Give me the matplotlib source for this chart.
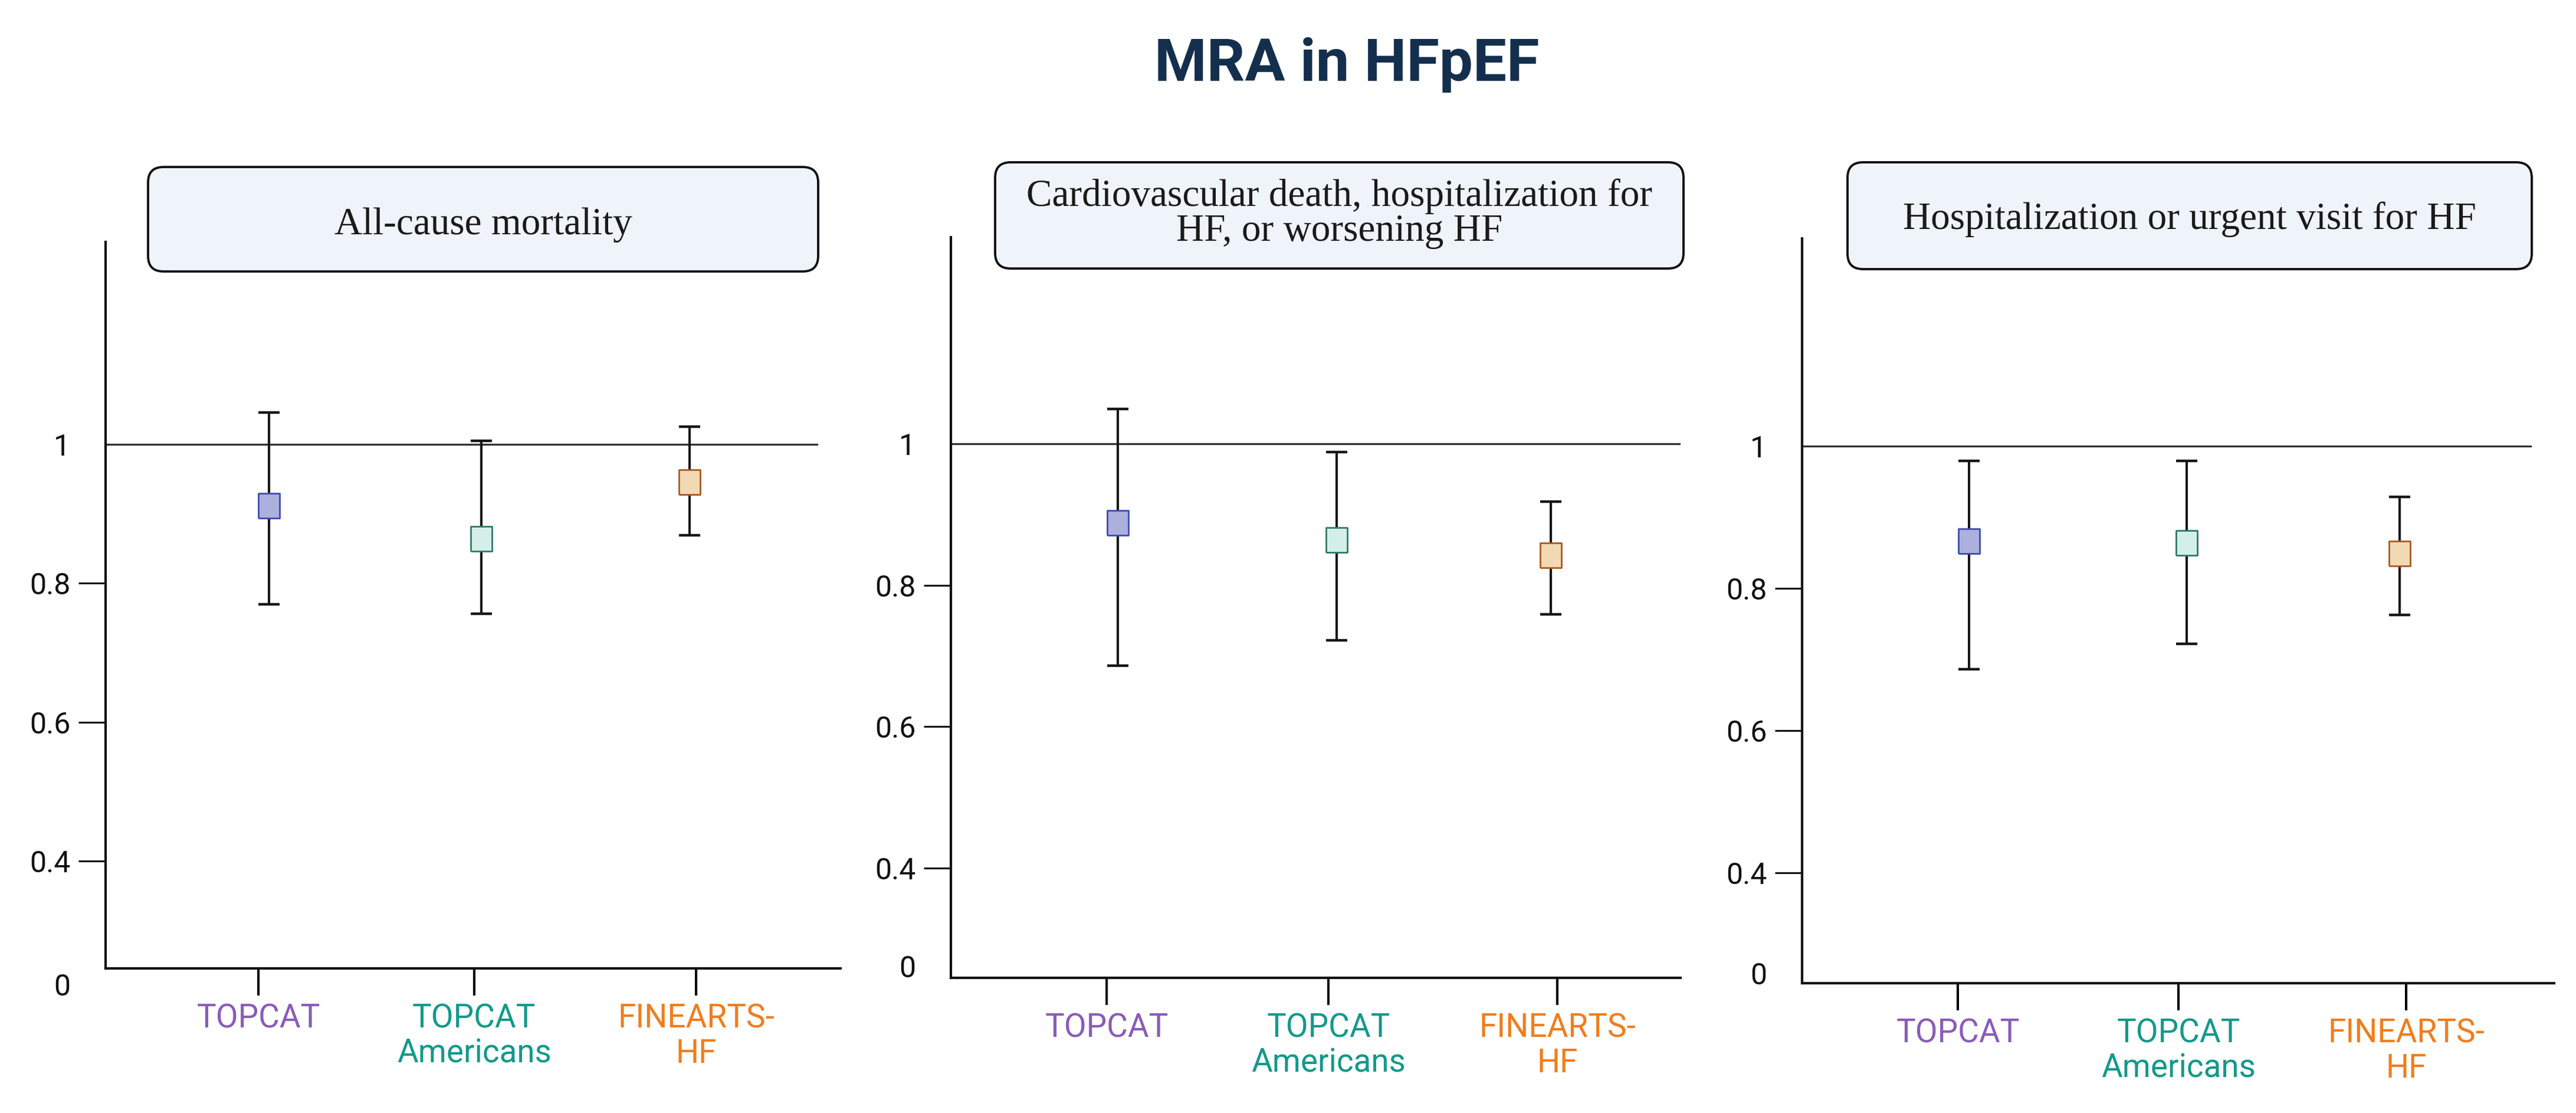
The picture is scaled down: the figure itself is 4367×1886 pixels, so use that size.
import matplotlib
matplotlib.use("Agg")
import matplotlib.pyplot as plt
from matplotlib.patches import FancyBboxPatch

# ---------------- data ----------------
categories = ["TOPCAT", "TOPCAT\nAmericans", "FINEARTS-\nHF"]
outcomes = [
    "All-cause mortality",
    "Cardiovascular death, hospitalization for\nHF, or worsening HF",
    "Hospitalization or urgent visit for HF",
]
hr_all_cause = [0.912, 0.864, 0.946]
lo_all_cause = [0.770, 0.756, 0.869]
hi_all_cause = [1.046, 1.005, 1.026]

hr_cv_hf = [0.888, 0.864, 0.842]
lo_cv_hf = [0.686, 0.722, 0.759]
hi_cv_hf = [1.049, 0.988, 0.918]

hr_hosp = [0.866, 0.864, 0.849]
lo_hosp = [0.686, 0.722, 0.763]
hi_hosp = [0.979, 0.979, 0.929]

ytick_vals = [0.4, 0.6, 0.8, 1.0]
ytick_labels = ["0.4", "0.6", "0.8", "1"]

# ---------------- styles ----------------
W, H = 4367, 1886
DPI = 100
marker_face = ["#abb0dc", "#d4efe9", "#f2d9b5"]
marker_edge = ["#3e4ab0", "#2e7a66", "#a65a1f"]
label_colors = ["#8a5cb8", "#13998a", "#f07d1c"]
title_color = "#142f4e"
box_face = "#eff3fa"
rect_marker = [(-0.44, -0.5), (0.44, -0.5), (0.44, 0.5), (-0.44, 0.5), (-0.44, -0.5)]

sans = ["Roboto", "DejaVu Sans"]
serif = ["Liberation Serif", "DejaVu Serif"]
plt.rcParams["font.family"] = sans

fig = plt.figure(figsize=(W / DPI, H / DPI), dpi=DPI)
fig.patch.set_facecolor("white")

def fx(px):
    return px / W

def fy(py):
    return 1 - py / H

# panel layout in pixels: left, right, top, bottom (x-axis)
layouts = [
    dict(l=179, r=1425, t=410, b=1641, xlim=(-0.709, 2.70), hline=0.968,
         box=(251, 283, 1387, 460), zero_dy=32, text_base=397),
    dict(l=1612, r=2849, t=402, b=1657, xlim=(-0.701, 2.585), hline=1.0,
         box=(1687, 275, 2854, 455), zero_dy=-15, text_base=None),
    dict(l=3055, r=4330, t=404, b=1666, xlim=(-0.705, 2.70), hline=0.969,
         box=(3132, 275, 4292, 456), zero_dy=-12, text_base=388),
]
series = [
    (hr_all_cause, lo_all_cause, hi_all_cause),
    (hr_cv_hf, lo_cv_hf, hi_cv_hf),
    (hr_hosp, lo_hosp, hi_hosp),
]
tick_pos = [0, 1, 2.03]
point_shift = [0.05, 0.035, -0.03]
YLIM = (0.245, 1.292)

for lay, (hr, lo, hi), title in zip(layouts, series, outcomes):
    ax = fig.add_axes([fx(lay["l"]), fy(lay["b"]),
                       fx(lay["r"] - lay["l"]), (lay["b"] - lay["t"]) / H])
    ax.set_xlim(*lay["xlim"])
    ax.set_ylim(*YLIM)
    for s in ["top", "right"]:
        ax.spines[s].set_visible(False)
    for s in ["left", "bottom"]:
        ax.spines[s].set_linewidth(3.0)
        ax.spines[s].set_color("#111111")
    ax.patch.set_alpha(0)

    ax.axhline(1.0, xmin=0, xmax=lay["hline"], color="#2e2e2e", lw=2.3, zorder=1)

    for i in range(3):
        x = tick_pos[i] + point_shift[i]
        ax.errorbar([x], [hr[i]],
                    yerr=[[hr[i] - lo[i]], [hi[i] - hr[i]]],
                    fmt="none", ecolor="#161616", elinewidth=2.9,
                    capsize=13, capthick=3.2, zorder=2)
        ax.plot([x], [hr[i]], marker=rect_marker, markersize=30,
                markerfacecolor=marker_face[i], markeredgecolor=marker_edge[i],
                markeredgewidth=2.0, linestyle="none", zorder=3)

    ax.set_yticks(ytick_vals)
    ax.set_yticklabels(ytick_labels)
    ax.tick_params(axis="y", direction="out", length=33, width=2.2,
                   pad=10, labelsize=36, colors="#111111")
    ax.yaxis.get_major_ticks()[-1].tick1line.set_visible(False)

    ax.set_xticks(tick_pos)
    ax.set_xticklabels(categories)
    ax.tick_params(axis="x", direction="out", length=33, width=2.9,
                   pad=9, labelsize=39.5)
    for lbl, c in zip(ax.get_xticklabels(), label_colors):
        lbl.set_color(c)
        lbl.set_linespacing(1.15)

    # "0" label at the (broken) axis base
    zx = lay["l"] - 46 - 14
    fig.text(fx(zx), fy(lay["b"] + lay["zero_dy"]), "0", ha="right",
             va="center", fontsize=36, color="#111111", family=sans)

    # rounded title box
    bx0, by0, bx1, by1 = lay["box"]
    patch = FancyBboxPatch((fx(bx0), fy(by1)), fx(bx1 - bx0), (by1 - by0) / H,
                           boxstyle="round,pad=0,rounding_size=0.006",
                           transform=fig.transFigure, facecolor=box_face,
                           edgecolor="#111111", linewidth=2.8,
                           mutation_aspect=W / H)
    fig.patches.append(patch)
    if lay["text_base"] is not None:
        fig.text(fx((bx0 + bx1) / 2), fy(lay["text_base"]), title,
                 ha="center", va="baseline", fontsize=47, family=serif,
                 color="#1a1a1a")
    else:
        fig.text(fx((bx0 + bx1) / 2), fy((by0 + by1) / 2 - 3), title,
                 ha="center", va="center", fontsize=47, family=serif,
                 color="#1a1a1a", linespacing=1.0)

fig.text(fx(2283), fy(137), "MRA in HFpEF", ha="center", va="baseline",
         fontsize=73, fontweight="bold", color=title_color, family=sans)

fig.savefig("out.png", dpi=DPI, facecolor="white")
